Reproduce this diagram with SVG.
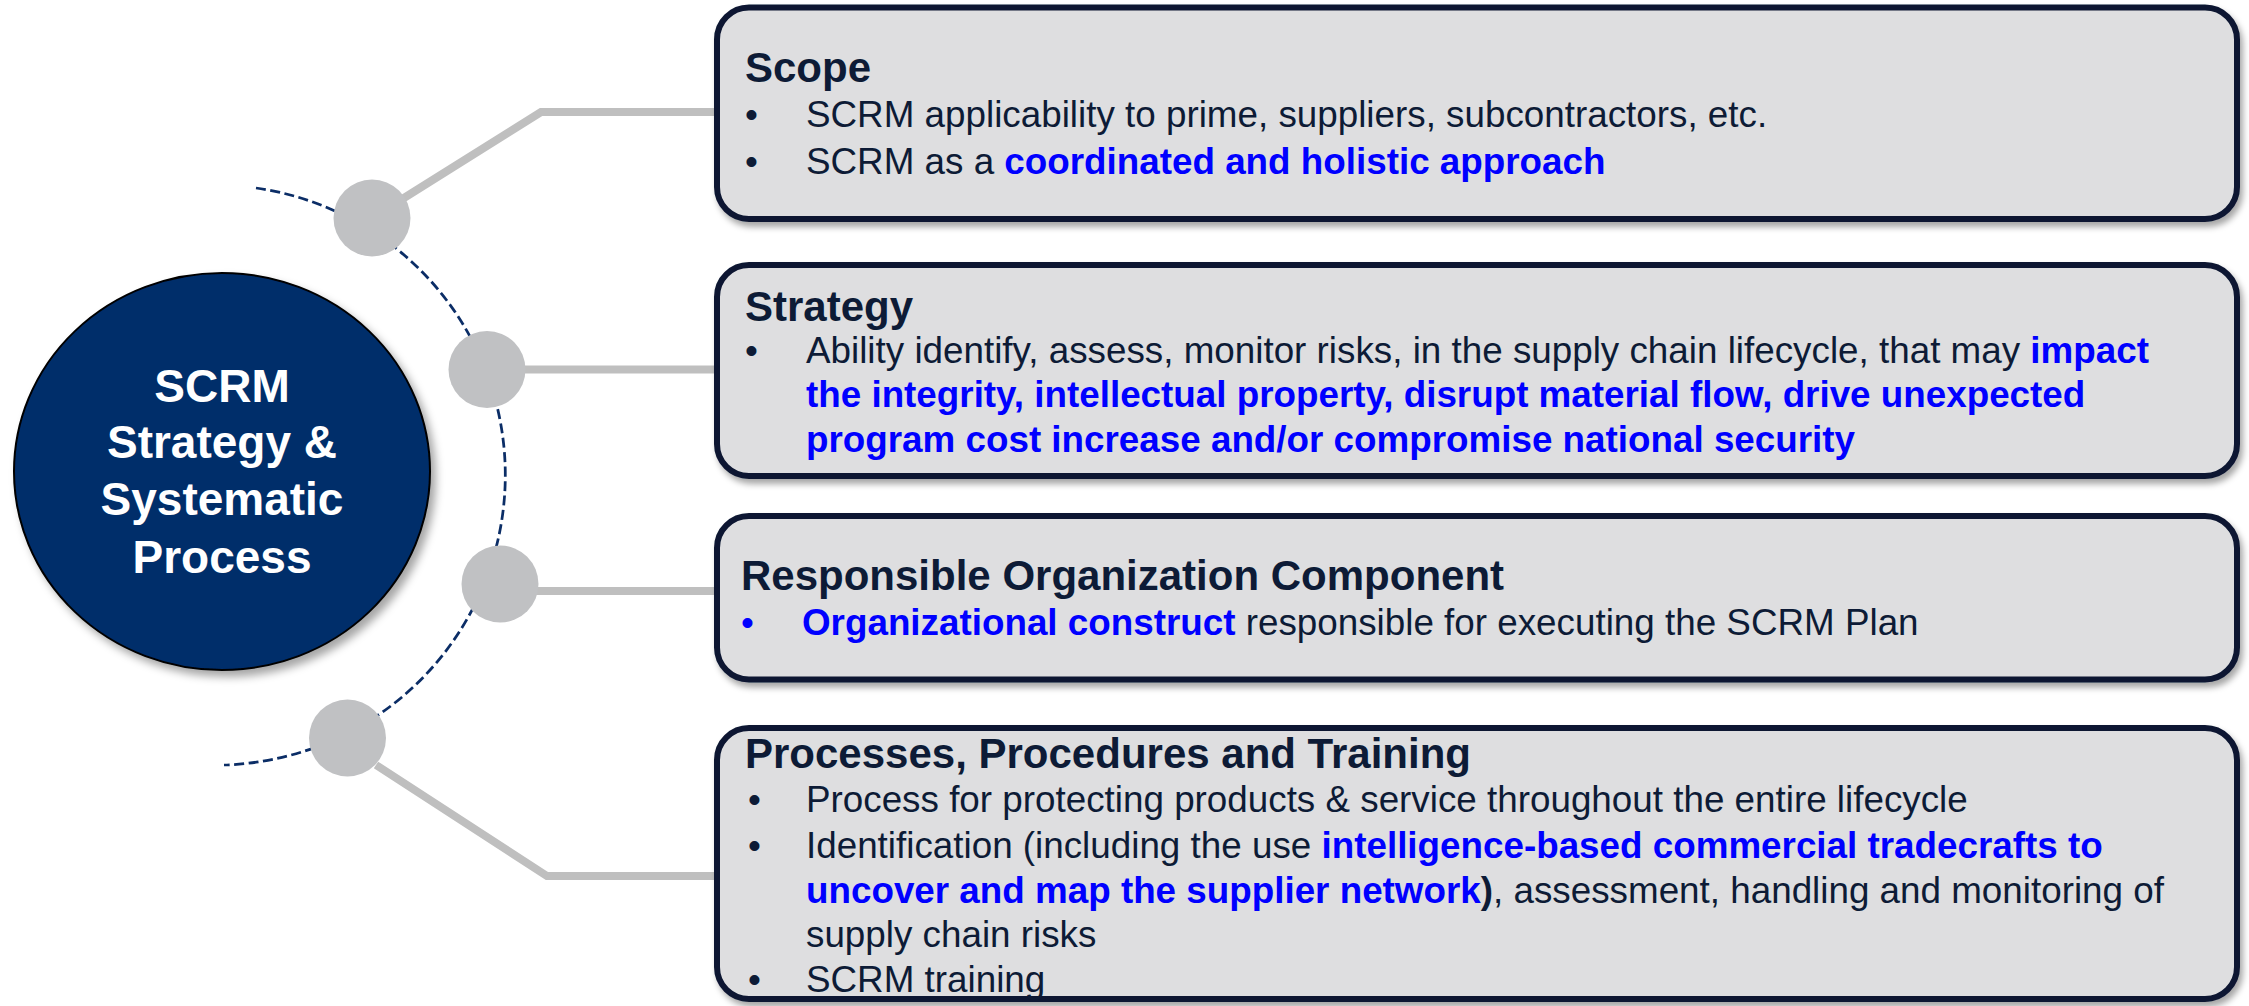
<svg xmlns="http://www.w3.org/2000/svg" width="2249" height="1006" viewBox="0 0 2249 1006">
  <defs>
    <filter id="shadow" x="-5%" y="-10%" width="110%" height="125%">
      <feDropShadow dx="3" dy="5" stdDeviation="3" flood-color="#000" flood-opacity="0.35"/>
    </filter>
    <filter id="cshadow" x="-10%" y="-10%" width="125%" height="125%">
      <feDropShadow dx="5" dy="6" stdDeviation="4" flood-color="#000" flood-opacity="0.35"/>
    </filter>
    <style>
      .box { fill: #DEDEE0; stroke: #0B1530; stroke-width: 6; filter: url(#shadow); }
      .txt { font-family: "Liberation Sans", Arial, sans-serif; fill: #0D1B36; }
      .title { font-size: 42px; font-weight: bold; }
      .body { font-size: 36.8px; }
      .hl { font-weight: bold; fill: #0000FF; }
      .bk { font-weight: bold; }
      .link { fill: none; stroke: #BFBFBF; stroke-width: 8; stroke-linejoin: miter; }
      .dot { fill: #C0C1C3; }
      .arc { fill: none; stroke: #0B2D66; stroke-width: 2.75; stroke-dasharray: 10 4.5; }
      .ctext { font-family: "Liberation Sans", Arial, sans-serif; font-size: 46px; font-weight: bold; fill: #FFFFFF; text-anchor: middle; }
    </style>
  </defs>

  <rect width="2249" height="1006" fill="#FFFFFF"/>

  <g id="connectors">
    <path class="arc" d="M256,188 A290,290 0 0 1 224,765"/>
    <polyline class="link" points="372,218 541,112 720,112"/>
    <polyline class="link" points="487,369.5 720,369.5"/>
    <polyline class="link" points="500,591 720,591"/>
    <polyline class="link" points="376,765 547,876 720,876"/>
  </g>

  <g id="junctions">
    <circle id="dot-1" class="dot" cx="372" cy="218" r="38.5"/>
    <circle id="dot-2" class="dot" cx="487" cy="369.5" r="38.5"/>
    <circle id="dot-3" class="dot" cx="500" cy="584" r="38.5"/>
    <circle id="dot-4" class="dot" cx="347.5" cy="738" r="38.5"/>
  </g>

  <g id="node-center">
    <ellipse cx="222" cy="471.5" rx="208" ry="198.5" fill="#002D6A" stroke="#000000" stroke-width="2" filter="url(#cshadow)"/>
    <text class="ctext" x="222" y="402">SCRM</text>
    <text class="ctext" x="222" y="458">Strategy &amp;</text>
    <text class="ctext" x="222" y="515">Systematic</text>
    <text class="ctext" x="222" y="573">Process</text>
  </g>

  <g id="node-scope">
    <rect class="box" x="717" y="7.5" width="1520" height="211.5" rx="32" ry="32"/>
    <text class="txt title" x="745" y="82">Scope</text>
    <text class="txt body" x="745" y="127">•</text>
    <text class="txt body" x="806" y="127">SCRM applicability to prime, suppliers, subcontractors, etc.</text>
    <text class="txt body" x="745" y="174">•</text>
    <text class="txt body" x="806" y="174">SCRM as a <tspan class="hl">coordinated and holistic approach</tspan></text>
  </g>

  <g id="node-strategy">
    <rect class="box" x="717" y="265" width="1520" height="211" rx="32" ry="32"/>
    <text class="txt title" x="745" y="321">Strategy</text>
    <text class="txt body" x="745" y="363">•</text>
    <text class="txt body" x="806" y="363">Ability identify, assess, monitor risks, in the supply chain lifecycle, that may <tspan class="hl">impact</tspan></text>
    <text class="txt body hl" x="806" y="407">the integrity, intellectual property, disrupt material flow, drive unexpected</text>
    <text class="txt body hl" x="806" y="452">program cost increase and/or compromise national security</text>
  </g>

  <g id="node-responsible">
    <rect class="box" x="717" y="516" width="1520" height="163.5" rx="32" ry="32"/>
    <text class="txt title" x="741" y="590">Responsible Organization Component</text>
    <text class="txt body" x="741" y="635" style="fill:#0000FF">•</text>
    <text class="txt body" x="802" y="635"><tspan class="hl">Organizational construct</tspan> responsible for executing the SCRM Plan</text>
  </g>

  <g id="node-processes">
    <rect class="box" x="717" y="728" width="1520" height="271" rx="32" ry="32"/>
    <text class="txt title" x="745" y="768">Processes, Procedures and Training</text>
    <text class="txt body" x="748" y="812">•</text>
    <text class="txt body" x="806" y="812">Process for protecting products &amp; service throughout the entire lifecycle</text>
    <text class="txt body" x="748" y="858">•</text>
    <text class="txt body" x="806" y="858">Identification (including the use <tspan class="hl">intelligence-based commercial tradecrafts to</tspan></text>
    <text class="txt body" x="806" y="903"><tspan class="hl">uncover and map the supplier network</tspan><tspan class="bk">)</tspan>, assessment, handling and monitoring of</text>
    <text class="txt body" x="806" y="947">supply chain risks</text>
    <text class="txt body" x="748" y="992">•</text>
    <text class="txt body" x="806" y="992">SCRM training</text>
  </g>
</svg>
